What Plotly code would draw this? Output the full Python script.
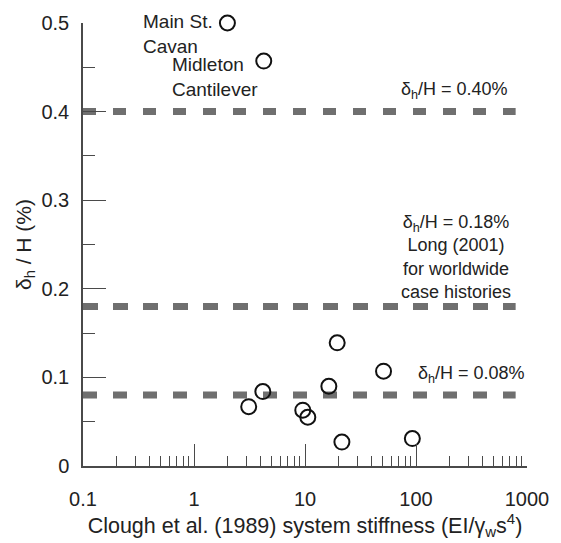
import math
import plotly.graph_objects as go

# Data
stiffness = [2.0, 4.25, 19.5, 51.0, 16.4, 4.17, 3.11, 9.55, 10.6, 21.5, 92.7]
drift_pct = [0.500, 0.457, 0.139, 0.107, 0.090, 0.084, 0.067, 0.063, 0.055, 0.027, 0.031]

limit_values = [0.40, 0.18, 0.08]
limit_x = [0.1, 790]
limit_dash = ["13px,17px", "15px,15px", "14px,16px"]

x_tickvals = [0.1, 1, 10, 100, 1000]
x_ticktext = ["0.1", "1", "10", "100", "1000"]
y_tickvals = [0, 0.1, 0.2, 0.3, 0.4, 0.5]
y_ticktext = ["0", "0.1", "0.2", "0.3", "0.4", "0.5"]

FONT = "Liberation Sans, Arial, sans-serif"
LINE_GRAY = "#6f6f6f"
AXIS = "#4a4a4a"
TXT = "#222222"

fig = go.Figure()

for val, dash in zip(limit_values, limit_dash):
    fig.add_trace(go.Scatter(
        x=limit_x, y=[val, val], mode="lines",
        line=dict(color=LINE_GRAY, width=7, dash=dash),
        hoverinfo="skip", showlegend=False, cliponaxis=False))

fig.add_trace(go.Scatter(
    x=stiffness, y=drift_pct, mode="markers",
    marker=dict(symbol="circle-open", size=15, color="#111111",
                line=dict(width=2, color="#111111")),
    showlegend=False, cliponaxis=False))

annotations = [
    dict(x=0.333, y=0.488, text="Main St.<br>Cavan", xanchor="left", align="left", size=19),
    dict(x=0.614, y=0.439, text="Midleton<br>Cantilever", xanchor="left", align="left", size=19),
    dict(x=700, y=0.424, text="δ<sub>h</sub>/H = 0.40%", xanchor="right", align="right", size=18),
    dict(x=231, y=0.236, text="δ<sub>h</sub>/H = 0.18%<br>Long (2001)<br>for worldwide<br>case histories",
         xanchor="center", align="center", size=18),
    dict(x=313, y=0.103, text="δ<sub>h</sub>/H = 0.08%", xanchor="center", align="center", size=18),
]
for a in annotations:
    fig.add_annotation(xref="x", yref="y", x=math.log10(a["x"]),
                       y=a["y"], text=a["text"], xanchor=a["xanchor"], yanchor="middle",
                       align=a["align"], showarrow=False,
                       font=dict(family=FONT, size=a["size"], color=TXT))

minor_x = [m * 10 ** e for e in range(-1, 3) for m in range(2, 10)]

fig.update_xaxes(
    type="log", range=[-1, 3],
    tickmode="array", tickvals=x_tickvals, ticktext=x_ticktext,
    ticks="inside", ticklen=22, tickwidth=1.3, tickcolor=AXIS,
    showline=True, linecolor=AXIS, linewidth=1.5,
    showgrid=False, zeroline=False,
    ticklabelstandoff=14,
    tickfont=dict(family=FONT, size=20, color=TXT),
    minor=dict(tickmode="array", tickvals=minor_x, ticks="inside", ticklen=10,
               tickwidth=1.3, tickcolor=AXIS, showgrid=False),
    title=dict(text="Clough et al. (1989) system stiffness (EI/γ<sub>w</sub>s<sup>4</sup>)",
               font=dict(family=FONT, size=21.5, color=TXT), standoff=6),
)
fig.update_yaxes(
    range=[0, 0.5],
    tickmode="array", tickvals=y_tickvals, ticktext=y_ticktext,
    ticks="inside", ticklen=23, tickwidth=1.3, tickcolor=AXIS,
    showline=True, linecolor=AXIS, linewidth=1.5,
    showgrid=False, zeroline=False,
    ticklabelstandoff=8,
    tickfont=dict(family=FONT, size=20, color=TXT),
    minor=dict(tick0=0, dtick=0.05, ticks="inside", ticklen=12,
               tickwidth=1.3, tickcolor=AXIS, showgrid=False),
    title=dict(text="δ<sub>h</sub> / H (%)",
               font=dict(family=FONT, size=21, color=TXT), standoff=4),
)

fig.update_layout(
    width=561, height=543,
    margin=dict(l=83, r=26, t=20, b=73),
    paper_bgcolor="white", plot_bgcolor="white",
    showlegend=False,
)

fig.write_html("out.html")
